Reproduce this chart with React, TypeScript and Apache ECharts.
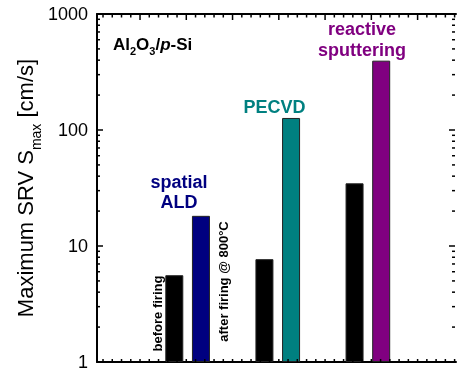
import React, { useEffect, useRef } from "react";
import * as echarts from "echarts";

// ---- data ----
const categories = ["spatial ALD", "PECVD", "reactive sputtering"];
const beforeFiring = [5.6, 7.7, 34.7];
const afterProcess = [18.2, 127, 396];
const processColors = ["#000080", "#008080", "#800080"];
const yMajorTicks = [1, 10, 100, 1000];
const yMinorTicks = [2, 3, 4, 5, 6, 7, 8, 9, 20, 30, 40, 50, 60, 70, 80, 90, 200, 300, 400, 500, 600, 700, 800, 900];
const xTickOffset = 0.93;
const xMax = 7.76;

const FONT = "'Liberation Sans', Arial, Helvetica, sans-serif";

export default function App() {
  const ref = useRef<HTMLDivElement>(null);
  useEffect(() => {
    if (!ref.current) return;
    const chart = echarts.init(ref.current, null, { renderer: "svg" });

    // tick specs: [x, y, kind]  kind 0 = y major, 1 = y minor, 2 = x major, 3 = x minor
    const tickData: number[][] = [];
    yMajorTicks.forEach((v) => tickData.push([0, v, 0]));
    yMinorTicks.forEach((v) => tickData.push([0, v, 1]));
    for (let k = -4; xTickOffset + k * 0.2 < xMax; k++) {
      const v = +(xTickOffset + k * 0.2).toFixed(3);
      if (v > 0.02) tickData.push([v, 1, k % 5 === 0 ? 2 : 3]);
    }

    const frame = { left: 97, right: 2, top: 14, bottom: 9 };
    const lineStyle = { color: "#000", width: 2 };

    const option: any = {
      animation: false,
      grid: [
        { ...frame },
        { left: 97.5, right: -3.5, top: 14, bottom: 9 },
      ],
      xAxis: [
        {
          type: "value",
          gridIndex: 0,
          position: "bottom",
          min: 0,
          max: xMax,
          axisLine: { show: true, lineStyle, onZero: false },
          axisTick: { show: false },
          axisLabel: { show: false },
          splitLine: { show: false },
        },
        {
          type: "value",
          gridIndex: 0,
          position: "top",
          min: 0,
          max: xMax,
          axisLine: { show: true, lineStyle, onZero: false },
          axisTick: { show: false },
          axisLabel: { show: false },
          splitLine: { show: false },
        },
        {
          type: "category",
          gridIndex: 1,
          boundaryGap: false,
          data: ["", ...categories, ""],
          show: false,
        },
      ],
      yAxis: [
        {
          type: "log",
          gridIndex: 0,
          position: "left",
          min: 1,
          max: 1000,
          logBase: 10,
          axisLine: { show: true, lineStyle },
          axisTick: { show: false },
          axisLabel: {
            fontFamily: FONT,
            fontSize: 18,
            color: "#000",
            margin: 9,
            formatter: (v: number) => String(Math.round(v)),
          },
          splitLine: { show: false },
          minorTick: { show: false },
        },
        { type: "log", gridIndex: 1, min: 1, max: 1000, show: false },
      ],
      series: [
        {
          name: "ticks",
          type: "custom",
          xAxisIndex: 0,
          yAxisIndex: 0,
          silent: true,
          clip: false,
          data: tickData,
          renderItem: (params: any, api: any) => {
            const x = api.value(0);
            const y = api.value(1);
            const kind = api.value(2);
            const st = { stroke: "#000", lineWidth: 1.5 };
            if (kind < 2) {
              const len = kind === 0 ? 6 : 3;
              const pl = api.coord([0, y]);
              const pr = api.coord([xMax, y]);
              return {
                type: "group",
                children: [
                  { type: "line", shape: { x1: pl[0], y1: pl[1], x2: pl[0] + len, y2: pl[1] }, style: st },
                  { type: "line", shape: { x1: pr[0] - len - 1, y1: pr[1], x2: pr[0] - 1, y2: pr[1] }, style: st },
                ],
              };
            }
            const len = kind === 2 ? 6 : 3.5;
            const pb = api.coord([x, 1]);
            const pt = api.coord([x, 1000]);
            return {
              type: "group",
              children: [
                { type: "line", shape: { x1: pt[0], y1: pt[1], x2: pt[0], y2: pt[1] + len }, style: st },
                { type: "line", shape: { x1: pb[0], y1: pb[1], x2: pb[0], y2: pb[1] - 3 }, style: st },
              ],
            };
          },
          z: 5,
        },
        {
          name: "before firing",
          type: "bar",
          xAxisIndex: 2,
          yAxisIndex: 1,
          barWidth: 18,
          barGap: "48%",
          data: ["-", ...beforeFiring, "-"],
          itemStyle: { color: "#000", borderColor: "#222", borderWidth: 1 },
        },
        {
          name: "after",
          type: "bar",
          xAxisIndex: 2,
          yAxisIndex: 1,
          barWidth: 18,
          barGap: "48%",
          data: ["-", ...afterProcess.map((v, i) => ({ value: v, itemStyle: { color: processColors[i] } })), "-"],
          itemStyle: { borderColor: "#222", borderWidth: 1 },
        },
      ],
      graphic: [
        {
          type: "text",
          x: 25,
          y: 188,
          rotation: Math.PI / 2,
          style: {
            text: "{n|Maximum SRV S}{s|max}{n| [cm/s]}",
            align: "center",
            verticalAlign: "middle",
            rich: {
              n: { fontFamily: FONT, fontSize: 22, lineHeight: 36, verticalAlign: "middle", fill: "#000" },
              s: { fontFamily: FONT, fontSize: 14, lineHeight: 14, verticalAlign: "bottom", fill: "#000" },
            },
          },
        },
        {
          type: "text",
          x: 113,
          y: 44,
          style: {
            text: "{n|Al}{s|2}{n|O}{s|3}{n|/}{i|p}{n|-Si}",
            align: "left",
            verticalAlign: "middle",
            rich: {
              n: { fontFamily: FONT, fontSize: 17, fontWeight: "bold", lineHeight: 24, verticalAlign: "middle", fill: "#000" },
              i: { fontFamily: FONT, fontSize: 17, fontWeight: "bold", fontStyle: "italic", lineHeight: 24, verticalAlign: "middle", fill: "#000" },
              s: { fontFamily: FONT, fontSize: 11, fontWeight: "bold", lineHeight: 11, verticalAlign: "bottom", fill: "#000" },
            },
          },
        },
        {
          type: "text",
          x: 179,
          y: 192,
          style: {
            text: "spatial\nALD",
            align: "center",
            verticalAlign: "middle",
            fontFamily: FONT,
            fontSize: 18,
            fontWeight: "bold",
            lineHeight: 20,
            fill: processColors[0],
          },
        },
        {
          type: "text",
          x: 274.5,
          y: 106.5,
          style: {
            text: "PECVD",
            align: "center",
            verticalAlign: "middle",
            fontFamily: FONT,
            fontSize: 18,
            fontWeight: "bold",
            fill: processColors[1],
          },
        },
        {
          type: "text",
          x: 362,
          y: 39,
          style: {
            text: "reactive\nsputtering",
            align: "center",
            verticalAlign: "middle",
            fontFamily: FONT,
            fontSize: 18,
            fontWeight: "bold",
            lineHeight: 21,
            fill: processColors[2],
          },
        },
        {
          type: "text",
          x: 157.5,
          y: 313.5,
          rotation: Math.PI / 2,
          style: {
            text: "before firing",
            align: "center",
            verticalAlign: "middle",
            fontFamily: FONT,
            fontSize: 13,
            fontWeight: "bold",
            fill: "#000",
          },
        },
        {
          type: "text",
          x: 223,
          y: 281.5,
          rotation: Math.PI / 2,
          style: {
            text: "after firing @ 800°C",
            align: "center",
            verticalAlign: "middle",
            fontFamily: FONT,
            fontSize: 13,
            fontWeight: "bold",
            fill: "#000",
          },
        },
      ],
    };

    chart.setOption(option);
    return () => chart.dispose();
  }, []);

  return <div ref={ref} style={{ position: "fixed", left: 0, top: 0, width: 458, height: 371 }} />;
}
